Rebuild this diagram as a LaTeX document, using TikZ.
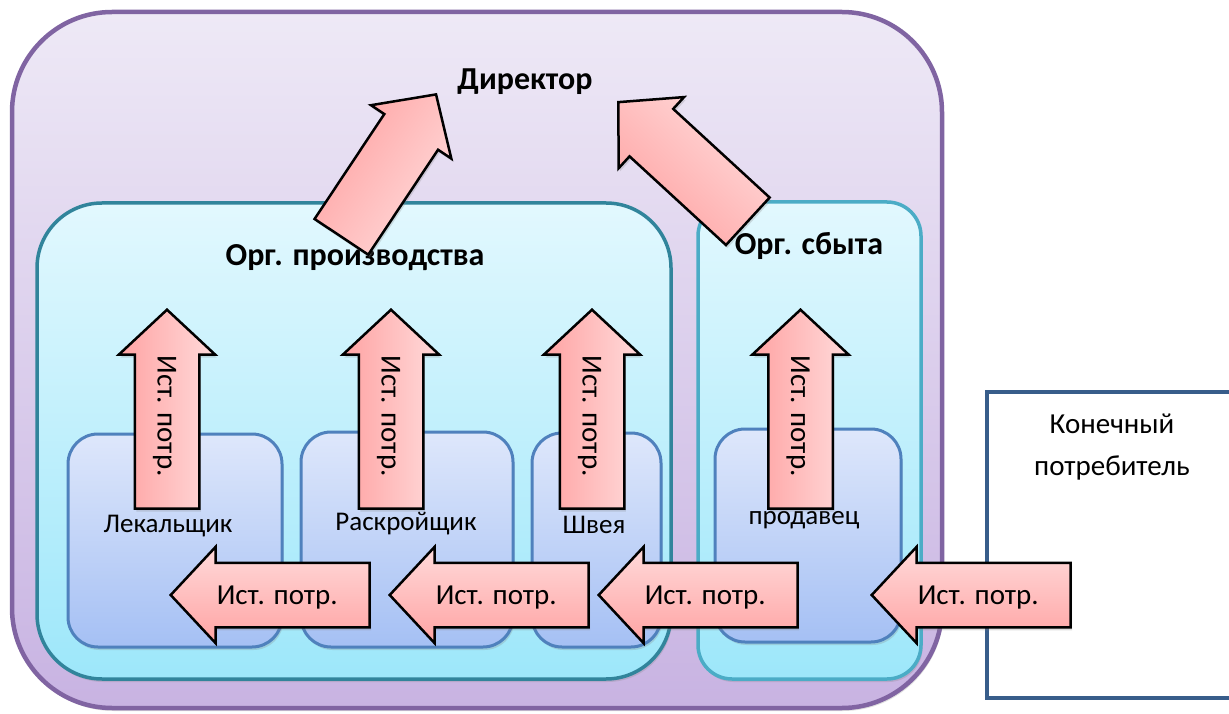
\documentclass[tikz,border=0pt]{standalone}
\usepackage{fontspec}
\setmainfont{Carlito}
\usetikzlibrary{positioning, shapes.arrows, shadows}

\definecolor{firmline}{HTML}{8064A2}
\definecolor{firmtop}{HTML}{EEE9F6}
\definecolor{firmbot}{HTML}{C8B3E2}
\definecolor{prodline}{HTML}{31849B}
\definecolor{saleline}{HTML}{4BACC6}
\definecolor{orgtop}{HTML}{E2F8FE}
\definecolor{orgbot}{HTML}{9DE7FA}
\definecolor{workline}{HTML}{4F81BD}
\definecolor{worktop}{HTML}{DEE7FB}
\definecolor{workbot}{HTML}{A5C0F4}
\definecolor{custline}{HTML}{385D8A}
\definecolor{pinkdark}{HTML}{FFA3A3}
\definecolor{pinklight}{HTML}{FFDADA}

\tikzset{
  softshadow/.style={drop shadow={opacity=.25, shadow xshift=1.5pt, shadow yshift=-3pt}},
  firmbox/.style={rectangle, draw=firmline, line width=4.5pt, rounded corners=100pt,
    top color=firmtop, bottom color=firmbot, softshadow},
  orgbox/.style={rectangle, line width=3.5pt, top color=orgtop, bottom color=orgbot, softshadow},
  workbox/.style={rectangle, draw=workline, line width=3pt, rounded corners=30pt,
    top color=worktop, bottom color=workbot, softshadow},
  title/.style={font=\fontsize{32}{36}\selectfont\bfseries},
  role/.style={font=\fontsize{27}{32}\selectfont},
  need/.style={single arrow, draw=black, line width=2.5pt, single arrow head extend=16pt,
    single arrow tip angle=94, minimum height=199pt, inner ysep=0pt, inner xsep=2pt,
    text height=40.5pt, text depth=21.5pt, font=\fontsize{29}{34}\selectfont,
    softshadow, anchor=tip},
  back/.style={shape border rotate=180},
}
\newcommand{\needtext}{Ист. потр.\hspace*{16pt}}

\begin{document}
\begin{tikzpicture}[x=1pt, y=-1pt]
\useasboundingbox (0,0) rectangle (1229,714);

% boxes
\node[firmbox, minimum width=930pt, minimum height=696pt] (firm) at (477,360) {};
\node[orgbox, draw=prodline, rounded corners=65pt, minimum width=634pt, minimum height=476pt] (prod) at (354,441) {};
\node[orgbox, draw=saleline, rounded corners=34pt, minimum width=223pt, minimum height=477pt] (sales) at (809.5,440.5) {};
\node[workbox, minimum width=214pt, minimum height=213pt] (lek) at (175,540.5) {};
\node[workbox, minimum width=212pt, minimum height=215pt] (rask) at (407,539.5) {};
\node[workbox, minimum width=129pt, minimum height=214pt] (shv) at (596.5,540) {};
\node[workbox, minimum width=186pt, minimum height=213pt] (seller) at (808,535.5) {};
\node[rectangle, draw=custline, line width=3.5pt, fill=white, minimum width=258pt, minimum height=306pt] (cust) at (1116,545) {};

% texts
\node[title] (director) at (525,82) {Директор};
\node[title] (prodname) at (355,258) {Орг. производства};
\node[title] (salename) at (809,246) {Орг. сбыта};
\node[role] (lekname) at (168,526) {Лекальщик};
\node[role] (raskname) at (406,524) {Раскройщик};
\node[role] (shvname) at (594,525) {Швея};
\node[role] (sellername) at (804,520) {продавец};
\node[role, font=\fontsize{29}{42}\selectfont, align=center] (custname) at (1112,447) {Конечный\\потребитель};

% needs going up
\foreach \x [count=\i] in {167,391,592,800.5}
  \node[need, back, rotate=-90, left color=pinkdark, right color=pinklight] (up\i) at (\x,308) {\needtext};

% needs going left
\foreach \x [count=\i] in {169,388,597,870}
  \node[need, back, top color=pinklight, bottom color=pinkdark] (left\i) at (\x,595) {\needtext};

% to the director
\node[need, minimum height=171pt, rotate=56.4, top color=pinkdark, bottom color=pinklight, shading angle=56.4] (toprod) at (437,93) {};
\node[need, minimum height=176pt, rotate=137.4, top color=pinkdark, bottom color=pinklight, shading angle=137.4] (tosale) at (617,101) {};

\end{tikzpicture}
\end{document}
